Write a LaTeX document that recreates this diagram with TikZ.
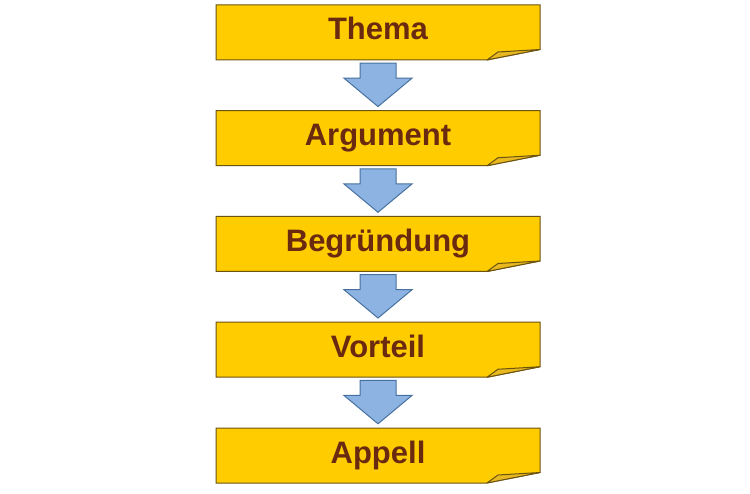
\documentclass[tikz,border=0pt]{standalone}
\usepackage{fontspec}
\setmainfont{Liberation Sans}
\usetikzlibrary{calc}
\definecolor{boxfill}{HTML}{FFCC00}
\definecolor{boxline}{HTML}{6B5310}
\definecolor{foldfill}{HTML}{E8B820}
\definecolor{txt}{HTML}{6A2A10}
\definecolor{arrfill}{HTML}{8DB3E2}
\definecolor{arrline}{HTML}{46709F}
\tikzset{
  stepbox/.style={minimum width=324pt, minimum height=55pt, inner sep=0pt,
    font=\fontsize{31}{31}\selectfont\bfseries, text=txt,
    text height=21.5pt, text depth=6.5pt},
  boxoutline/.style={fill=boxfill, draw=boxline, line width=1pt, line join=miter},
  foldstyle/.style={fill=foldfill, draw=boxline, line width=1pt, line join=round},
  blockarrow/.style={fill=arrfill, draw=arrline, line width=1pt, line join=miter}
}
\begin{document}
\begin{tikzpicture}[x=1pt,y=-1pt]
\useasboundingbox (0,0) rectangle (750,494);
\foreach \i/\t in {1/Thema,2/Argument,3/Begr\"undung,4/Vorteil,5/Appell}{
  \pgfmathsetmacro{\cy}{32.5+105.75*(\i-1)}
  \path[boxoutline] (216,\cy-27.5) -- (540,\cy-27.5) -- (540,\cy+17) -- (487,\cy+27.5) -- (216,\cy+27.5) -- cycle;
  \path[foldstyle] (487,\cy+27.5) -- (498,\cy+19.5) -- (540,\cy+17) -- cycle;
  \node[stepbox] (b\i) at (378,\cy) {\t};
}
\foreach \a/\b in {1/2,2/3,3/4,4/5}{
  \draw[blockarrow] ($(b\a.south)+(-18,3)$) -- ($(b\a.south)+(18,3)$) -- ($(b\a.south)+(18,18)$)
    -- ($(b\a.south)+(34,18)$) -- ($(b\b.north)+(0,-4)$) -- ($(b\a.south)+(-34,18)$)
    -- ($(b\a.south)+(-18,18)$) -- cycle;
}
\end{tikzpicture}
\end{document}
